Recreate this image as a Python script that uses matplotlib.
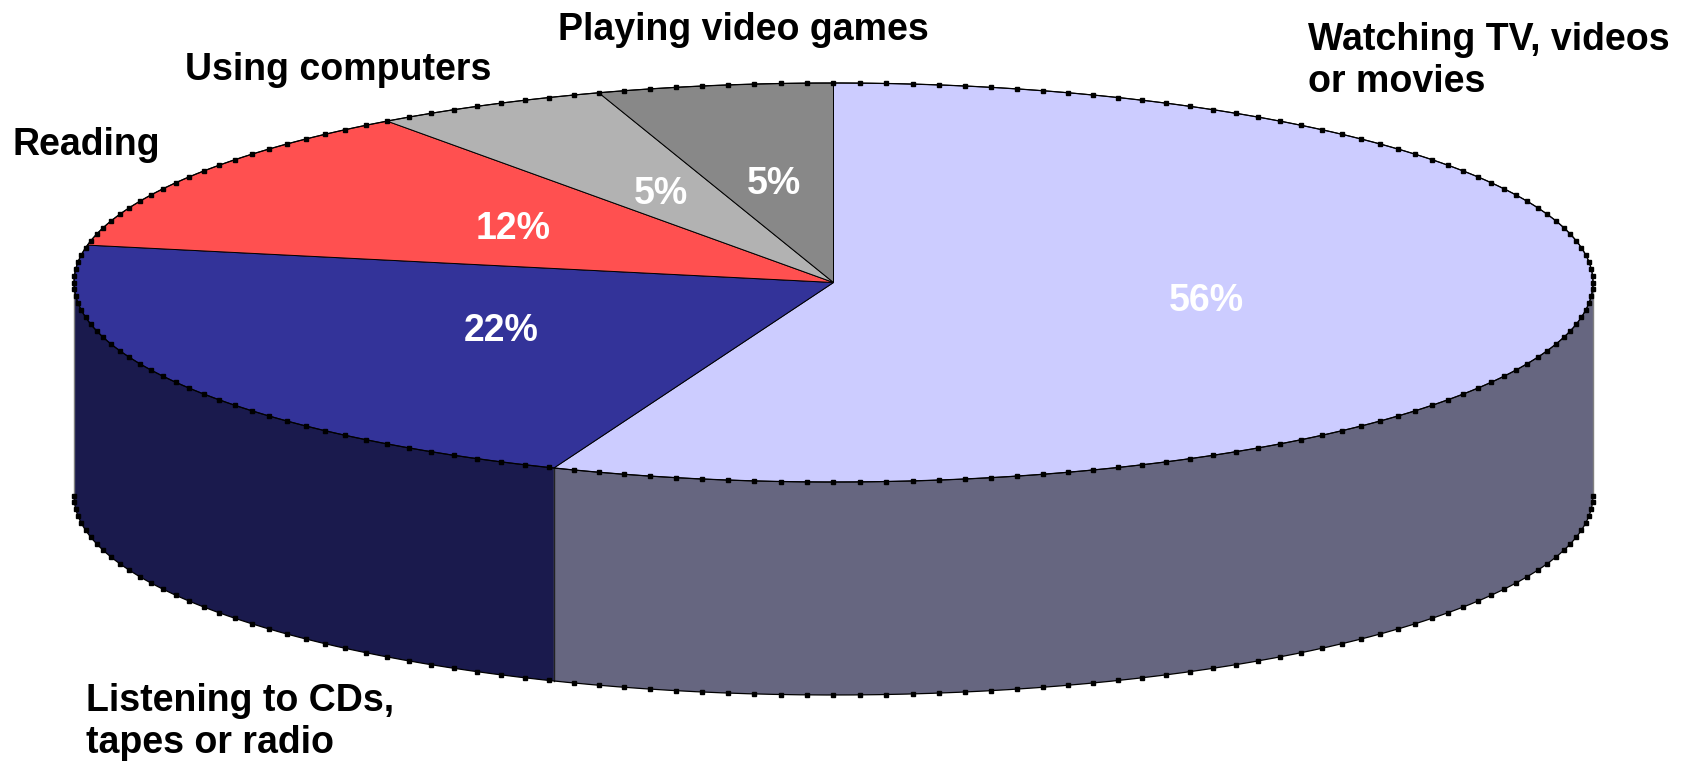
import numpy as np
import matplotlib
matplotlib.use("Agg")
import matplotlib.pyplot as plt
from matplotlib.patches import Polygon

# data
labels = ["Watching TV, videos\nor movies", "Listening to CDs,\ntapes or radio",
          "Reading", "Using computers", "Playing video games"]
shares = [56, 22, 12, 5, 5]
colors = ["#CCCCFF", "#333399", "#FF5050", "#B2B2B2", "#888888"]

# category label anchors (left, top), layout only
label_pos = [(1308, 22), (86, 683), (13, 127), (185, 52), (558, 12)]

# pie geometry in pixels
CX, CY = 833.5, 282.5
RX, RY = 759.5, 199.5
DEPTH = 213

plt.rcParams['font.family'] = ['Liberation Sans', 'DejaVu Sans']
FS = 27

fig = plt.figure(figsize=(16.9, 7.65), dpi=100)
ax = fig.add_axes([0, 0, 1, 1])
ax.set_xlim(0, 1690)
ax.set_ylim(765, 0)
ax.axis('off')


def pts(angles, dy=0.0):
    a = np.radians(angles)
    return np.column_stack([CX + RX * np.cos(a), CY - RY * np.sin(a) + dy])


def darker(c, f=0.5):
    r, g, b = matplotlib.colors.to_rgb(c)
    return (r * f, g * f, b * f)


total = float(sum(shares))
starts = []
ends = []
a = 90.0
for s in shares:
    starts.append(a)
    a = a - 360.0 * s / total
    ends.append(a)

# side walls (front half only)
for i in range(len(shares)):
    for k in (-1, 0, 1):
        lo = max(ends[i], -180 + 360 * k)
        hi = min(starts[i], 360 * k)
        if hi > lo:
            th = np.linspace(hi, lo, 200)
            top = pts(th)
            bot = pts(th[::-1], DEPTH)
            poly = Polygon(np.vstack([top, bot]), closed=True,
                           facecolor=darker(colors[i]), edgecolor='none', zorder=1)
            ax.add_patch(poly)

# vertical edges of the side wall
for th in (180.0, 0.0):
    p = pts([th])[0]
    ax.plot([p[0], p[0]], [p[1], p[1] + DEPTH], color='#808080', lw=1.0, zorder=2)
for th in ends:
    if np.sin(np.radians(th)) < 0:
        p = pts([th])[0]
        ax.plot([p[0], p[0]], [p[1], p[1] + DEPTH], color='#222222', lw=1.0, zorder=2)

# top wedges
for i in range(len(shares)):
    th = np.linspace(starts[i], ends[i], 300)
    arc = pts(th)
    poly = Polygon(np.vstack([[CX, CY], arc]), closed=True,
                   facecolor=colors[i], edgecolor='black', lw=0.7, zorder=3)
    ax.add_patch(poly)

# outline with the little square dots
th_all = np.linspace(0, 360, 721)
p = pts(th_all)
ax.plot(p[:, 0], p[:, 1], color='black', lw=0.9, zorder=4)
th_front = np.linspace(180, 360, 361)
p = pts(th_front, DEPTH)
ax.plot(p[:, 0], p[:, 1], color='black', lw=0.9, zorder=4)

th_dots = np.arange(0, 360, 2.0)
p = pts(th_dots)
ax.plot(p[:, 0], p[:, 1], ls='none', marker='s', ms=2.8, color='black', zorder=5)
th_dots_b = np.arange(180, 361, 2.0)
p = pts(th_dots_b, DEPTH)
ax.plot(p[:, 0], p[:, 1], ls='none', marker='s', ms=2.8, color='black', zorder=5)

# percentage labels at half radius
for i in range(len(shares)):
    mid = (starts[i] + ends[i]) / 2.0
    q = pts([mid])[0]
    ax.text(CX + 0.5 * (q[0] - CX), CY + 0.5 * (q[1] - CY), f"{shares[i]}%",
            color='white', fontsize=FS, fontweight='bold',
            ha='center', va='center', zorder=6)

# category labels
for lab, (x, y) in zip(labels, label_pos):
    ax.text(x, y, lab, fontsize=FS, fontweight='bold', color='black',
            ha='left', va='top', linespacing=1.2, zorder=6)

fig.savefig("out.png", dpi=100)
